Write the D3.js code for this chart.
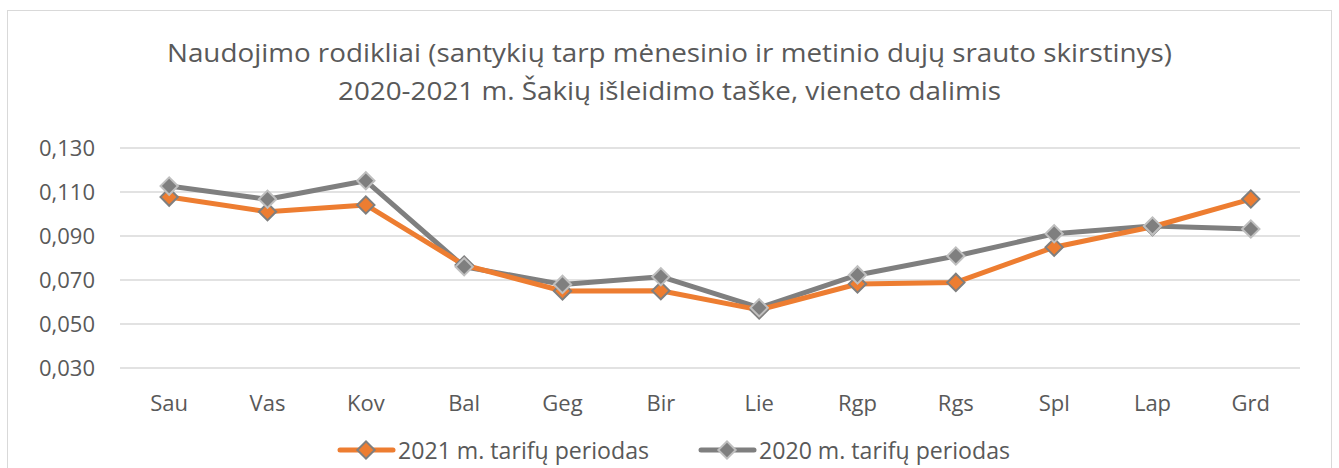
<!DOCTYPE html>
<html><head><meta charset="utf-8">
<script src="https://cdn.jsdelivr.net/npm/d3@7"></script>
<style>body{margin:0;background:#fff}svg{display:block}text{font-family:"Open Sans",sans-serif;fill:#595959}</style>
</head><body><svg id="c" width="1339" height="468"></svg>
<script>
const months = ["Sau","Vas","Kov","Bal","Geg","Bir","Lie","Rgp","Rgs","Spl","Lap","Grd"];
const series2021 = [0.1077,0.1010,0.1041,0.0768,0.0650,0.0651,0.0564,0.0682,0.0689,0.0849,0.0942,0.1068];
const series2020 = [0.1127,0.1067,0.1151,0.0760,0.0680,0.0715,0.0574,0.0723,0.0809,0.0910,0.0945,0.0932];
const yTicks = [0.030,0.050,0.070,0.090,0.110,0.130];
const seriesNames = ["2021 m. tarifų periodas","2020 m. tarifų periodas"];
const titleLines = ["Naudojimo rodikliai (santykių tarp mėnesinio ir metinio dujų srauto skirstinys)","2020-2021 m. Šakių išleidimo taške, vieneto dalimis"];

const svg = d3.select("#c");
svg.append("rect").attr("x",7.5).attr("y",10.5).attr("width",1324).attr("height",470).attr("fill","#fff").attr("stroke","#D9D9D9");

const x = d3.scaleBand().domain(months).range([120,1300]);
const y = d3.scaleLinear().domain([0.030,0.130]).range([368,148]);

svg.selectAll(".grid").data(yTicks).enter().append("line")
  .attr("x1",120).attr("x2",1300).attr("y1",d=>y(d)).attr("y2",d=>y(d))
  .attr("stroke","#D9D9D9").attr("stroke-width",1.5);

const fmt = d => d3.format(".3f")(d).replace(".",",");
svg.selectAll(".yt").data(yTicks).enter().append("text")
  .attr("x",95).attr("y",d=>y(d)).attr("dy","0.36em").attr("text-anchor","end")
  .attr("font-size",22).text(fmt);

svg.selectAll(".xt").data(months).enter().append("text")
  .attr("x",d=>x(d)+x.bandwidth()/2).attr("y",411).attr("text-anchor","middle")
  .attr("font-size",22).text(d=>d);

const tw = [1005,663];
titleLines.forEach((t,i)=>{
  svg.append("text").attr("x",669.5).attr("y",62+i*38).attr("text-anchor","middle")
    .attr("font-size",25).attr("textLength",tw[i]).attr("lengthAdjust","spacingAndGlyphs").text(t);
});

const cx = (d,i)=>x(months[i])+x.bandwidth()/2;
const line = d3.line().x((d,i)=>cx(d,i)).y(d=>y(d));

const defs = [
  {data:series2020,color:"#7F7F7F",mfill:"#7F7F7F",mstroke:"#BFBFBF"},
  {data:series2021,color:"#ED7D31",mfill:"#ED7D31",mstroke:"#7F7F7F"}
];
const sq = d3.symbol().type(d3.symbolSquare).size(150);
defs.forEach(s=>{
  svg.append("path").datum(s.data).attr("d",line).attr("fill","none")
    .attr("stroke",s.color).attr("stroke-width",5).attr("stroke-linejoin","round");
});
defs.slice().reverse().forEach(s=>{
  svg.selectAll(null).data(s.data).enter().append("path")
    .attr("d",sq).attr("transform",(d,i)=>`translate(${cx(d,i)},${y(d)}) rotate(45)`)
    .attr("fill",s.mfill).attr("stroke",s.mstroke).attr("stroke-width",2);
});

// legend
const leg = [
  {name:seriesNames[0],color:"#ED7D31",mstroke:"#7F7F7F",x:338},
  {name:seriesNames[1],color:"#7F7F7F",mstroke:"#BFBFBF",x:699}
];
leg.forEach(l=>{
  const g = svg.append("g");
  g.append("line").attr("x1",l.x+2).attr("x2",l.x+55).attr("y1",450).attr("y2",450)
    .attr("stroke",l.color).attr("stroke-width",5).attr("stroke-linecap","round");
  g.append("path").attr("d",sq).attr("transform",`translate(${l.x+28},450) rotate(45)`)
    .attr("fill",l.color).attr("stroke",l.mstroke).attr("stroke-width",2);
  g.append("text").attr("x",l.x+60).attr("y",450).attr("dy","0.36em").attr("font-size",24)
    .attr("textLength",251).attr("lengthAdjust","spacingAndGlyphs").text(l.name);
});
</script></body></html>
